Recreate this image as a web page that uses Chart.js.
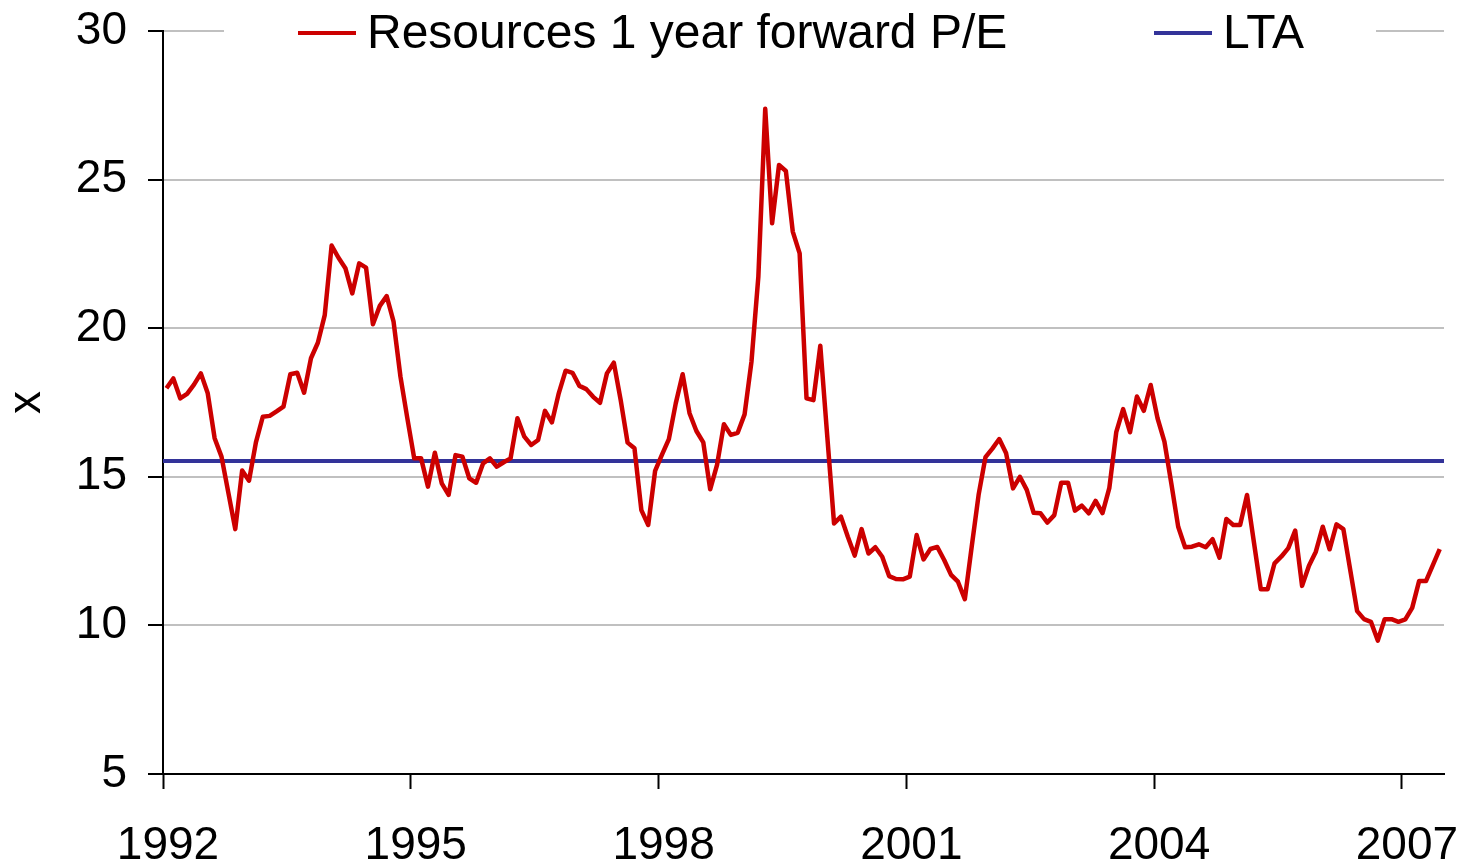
<!DOCTYPE html>
<html>
<head>
<meta charset="utf-8">
<title>Resources 1 year forward P/E</title>
<script src="https://cdn.jsdelivr.net/npm/chart.js@4.4.1/dist/chart.umd.min.js"></script>
<style>
  html, body { margin: 0; padding: 0; background: #fff; }
  canvas { display: block; }
</style>
</head>
<body>
<canvas id="peChart" width="1465" height="867"></canvas>
<script>
// monthly readings, one row per year, Jan 1992 .. Jun 2007
const START_YEAR = 1992;
const peValues = [
  17.98, 18.31, 17.64, 17.79, 18.10, 18.48, 17.81, 16.30, 15.68, 14.46, 13.24, 15.21,
  14.87, 16.16, 17.02, 17.05, 17.20, 17.36, 18.45, 18.50, 17.83, 18.99, 19.51, 20.44,
  22.78, 22.37, 22.02, 21.17, 22.18, 22.04, 20.13, 20.75, 21.08, 20.22, 18.37, 16.97,
  15.62, 15.62, 14.67, 15.81, 14.78, 14.39, 15.73, 15.68, 14.95, 14.80, 15.45, 15.62,
  15.34, 15.49, 15.62, 16.97, 16.35, 16.07, 16.24, 17.22, 16.83, 17.81, 18.57, 18.50,
  18.06, 17.95, 17.69, 17.49, 18.48, 18.84, 17.58, 16.15, 15.96, 13.88, 13.38, 15.20,
  15.75, 16.27, 17.47, 18.45, 17.14, 16.54, 16.16, 14.58, 15.40, 16.77, 16.41, 16.48,
  17.10, 18.87, 21.73, 27.38, 23.53, 25.49, 25.29, 23.25, 22.52, 17.64, 17.58, 19.41,
  16.40, 13.43, 13.66, 12.98, 12.35, 13.24, 12.42, 12.63, 12.31, 11.66, 11.56, 11.55,
  11.64, 13.04, 12.22, 12.57, 12.64, 12.20, 11.70, 11.47, 10.88, 12.65, 14.39, 15.66,
  15.95, 16.27, 15.79, 14.61, 15.00, 14.56, 13.79, 13.77, 13.46, 13.71, 14.80, 14.80,
  13.86, 14.03, 13.77, 14.19, 13.78, 14.63, 16.50, 17.28, 16.50, 17.70, 17.22, 18.09,
  16.97, 16.18, 14.78, 13.32, 12.63, 12.65, 12.73, 12.63, 12.90, 12.28, 13.58, 13.38,
  13.38, 14.39, 12.80, 11.22, 11.22, 12.09, 12.32, 12.60, 13.19, 11.33, 12.01, 12.48,
  13.32, 12.56, 13.40, 13.24, 11.86, 10.48, 10.21, 10.12,  9.49, 10.21, 10.21, 10.12,
  10.20, 10.59, 11.49, 11.49, 12.03, 12.57
];
const LTA_VALUE = 15.53;

const X_MIN = 1992;
const X_MAX = 2007.51;
const yearTicks = [1992, 1995, 1998, 2001, 2004, 2007];
const yTicks = [5, 10, 15, 20, 25, 30];

const FONT = '"Liberation Sans", Arial, sans-serif';
const RED = '#cc0000';
const BLUE = '#333399';

// each reading sits mid-month on the year axis
const monthPos = peValues.map((_, i) => START_YEAR + (i + 0.5) / 12);
const peSeries = peValues.map((v, i) => ({ x: monthPos[i], y: v }));
const ltaSeries = [{ x: X_MIN, y: LTA_VALUE }, { x: X_MAX, y: LTA_VALUE }];

Chart.defaults.font.family = FONT;
Chart.defaults.color = '#000';

// legend drawn over the top gridline, like the original
const legendOverlay = {
  id: 'legendOverlay',
  afterDraw(chart) {
    const ctx = chart.ctx;
    const top = chart.chartArea.top;
    ctx.save();
    ctx.fillStyle = '#fff';
    ctx.fillRect(224, top - 8, 1152, 16);
    ctx.font = '48px ' + FONT;
    ctx.textBaseline = 'alphabetic';
    ctx.textAlign = 'left';
    const spots = [298, 1154];
    chart.data.datasets.forEach((ds, i) => {
      const x = spots[i];
      ctx.strokeStyle = ds.borderColor;
      ctx.lineWidth = 4;
      ctx.beginPath();
      ctx.moveTo(x, top + 2);
      ctx.lineTo(x + 58, top + 2);
      ctx.stroke();
      ctx.fillStyle = '#000';
      ctx.fillText(ds.label, x + 69, 48);
    });
    ctx.restore();
  }
};

// keep the plot box where the original has it
const noEdgePadding = s => { s.paddingTop = 0; s.paddingBottom = 0; s.paddingLeft = 0; s.paddingRight = 0; };

new Chart(document.getElementById('peChart'), {
  type: 'line',
  data: {
    datasets: [
      { label: 'Resources 1 year forward P/E', data: peSeries, borderColor: RED,
        borderWidth: 4.5, pointRadius: 0, tension: 0, borderJoinStyle: 'round' },
      { label: 'LTA', data: ltaSeries, borderColor: BLUE,
        borderWidth: 4, pointRadius: 0, tension: 0 }
    ]
  },
  options: {
    responsive: false,
    animation: false,
    layout: { padding: { top: 31, right: 21, left: 0, bottom: 0 } },
    plugins: { legend: { display: false }, tooltip: { enabled: false } },
    scales: {
      x: {
        type: 'linear', min: X_MIN, max: X_MAX,
        afterBuildTicks: s => { s.ticks = yearTicks.map(v => ({ value: v })); },
        afterFit: s => { s.height = 93; noEdgePadding(s); },
        ticks: { font: { size: 46 }, padding: 30, labelOffset: 5, maxRotation: 0,
                 callback: v => String(v) },
        grid: { drawOnChartArea: false, drawTicks: true, tickLength: 15, tickColor: '#000', tickWidth: 2 },
        border: { color: '#000', width: 2 }
      },
      y: {
        min: 5, max: 30,
        afterBuildTicks: s => { s.ticks = yTicks.map(v => ({ value: v })); },
        afterFit: s => { s.width = 163; noEdgePadding(s); },
        ticks: { font: { size: 46 }, padding: 21, callback: v => String(v) },
        grid: { color: '#c0c0c0', lineWidth: 2, tickLength: 15, tickColor: '#000', tickWidth: 2 },
        border: { color: '#000', width: 2 },
        title: { display: true, text: 'x', font: { size: 46 }, padding: { top: 0, bottom: 0 } }
      }
    }
  },
  plugins: [legendOverlay]
});
</script>
</body>
</html>
